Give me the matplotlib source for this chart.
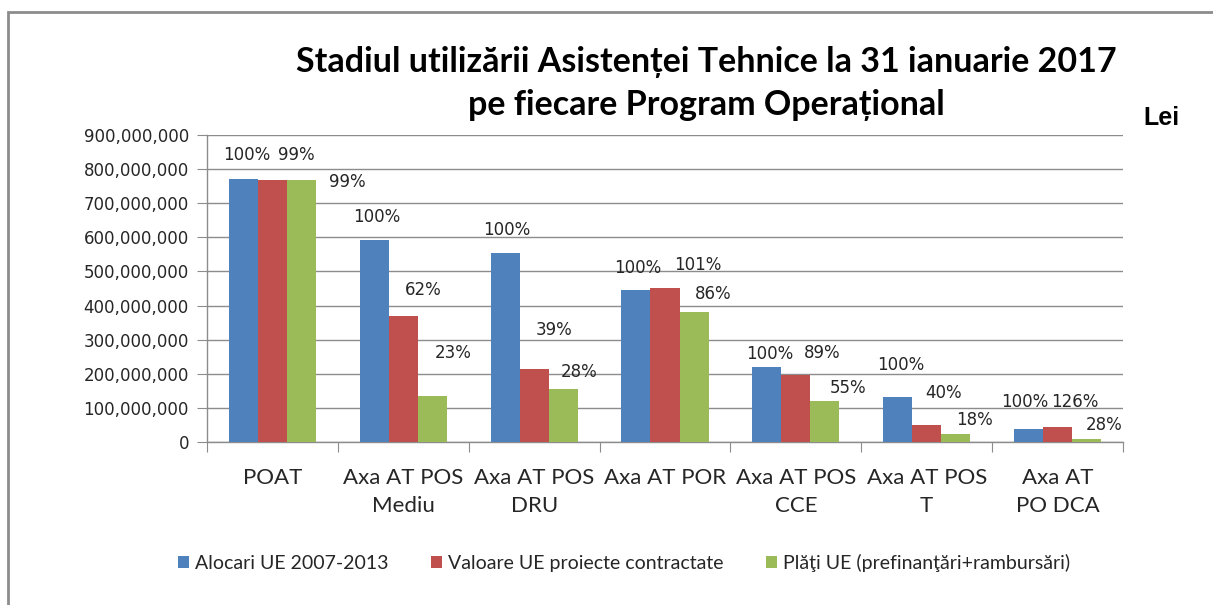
"""Stadiul utilizarii Asistentei Tehnice - grouped bars, Excel style."""

import matplotlib
matplotlib.use("Agg")
import matplotlib.pyplot as plt
import numpy as np
from matplotlib.patches import Rectangle
from matplotlib.ticker import FuncFormatter, MultipleLocator

CATEGORIES = [
    "POAT",
    "Axa AT POS\nMediu",
    "Axa AT POS\nDRU",
    "Axa AT POR",
    "Axa AT POS\nCCE",
    "Axa AT POS\nT",
    "Axa AT\nPO DCA",
]
SERIES = [
    "Alocari UE 2007-2013",
    "Valoare UE proiecte contractate",
    "Plăţi UE (prefinanţări+rambursări)",
]
ALOCARI = [770e6, 591e6, 555e6, 447e6, 221e6, 131e6, 38e6]
CONTRACTATE = [767e6, 369e6, 213e6, 451e6, 196e6, 49e6, 45e6]
PLATI = [767e6, 134e6, 154e6, 380e6, 119e6, 22e6, 8e6]
PCT_ALOCARI = [100, 100, 100, 100, 100, 100, 100]
PCT_CONTRACTATE = [99, 62, 39, 101, 89, 40, 126]
PCT_PLATI = [99, 23, 28, 86, 55, 18, 28]

COLORS = ["#4F81BD", "#C0504D", "#9BBB59"]
GRID = "#8C8C8C"
TEXT = "#262626"

# label nudges in pixels (dx, dy) relative to the top centre of each bar,
# mimicking the hand-placed Excel data labels
NUDGE = [
    [(3, 24), (3, 23), (2, 23), (2, 22), (3, 13), (3, 32), (-4, 27)],
    [(24, 25), (20, 26), (20, 39), (33, 23), (26, 22), (17, 32), (17, 25)],
    [(46, -2), (21, 43), (16, 17), (19, 18), (23, 13), (19, 14), (18, 14)],
]

fig = plt.figure(figsize=(12.13, 6.05), dpi=100)
ax = fig.add_axes([207 / 1213, 1 - 442 / 605, (1123 - 207) / 1213, (442 - 135) / 605])

x = np.arange(len(CATEGORIES))
w = 0.222
values = [ALOCARI, CONTRACTATE, PLATI]
pcts = [PCT_ALOCARI, PCT_CONTRACTATE, PCT_PLATI]
for k, (vals, pc) in enumerate(zip(values, pcts)):
    xs = x + (k - 1) * w
    ax.bar(xs, vals, width=w, color=COLORS[k], label=SERIES[k], zorder=3)
    for xi, v, p, (dx, dy) in zip(xs, vals, pc, NUDGE[k]):
        ax.annotate(f"{p}%", (xi, v), xytext=(dx, dy), textcoords="offset pixels",
                    ha="center", va="center", fontsize=12, color=TEXT,
                    family="DejaVu Sans", zorder=4)

ax.set_xlim(-0.5, len(CATEGORIES) - 0.5)
ax.set_ylim(0, 900e6)
ax.yaxis.set_major_locator(MultipleLocator(100e6))
ax.yaxis.set_major_formatter(FuncFormatter(lambda v, _: "0" if v == 0 else f"{v:,.0f}"))
ax.grid(axis="y", color=GRID, linewidth=1.0, zorder=0)
ax.set_axisbelow(True)

for s in ["top", "right"]:
    ax.spines[s].set_visible(False)
for s in ["left", "bottom"]:
    ax.spines[s].set_color(GRID)
    ax.spines[s].set_linewidth(1.0)

ax.tick_params(axis="y", length=7, color=GRID, labelsize=12, labelcolor=TEXT, pad=6)
ax.set_xticks(np.arange(len(CATEGORIES) + 1) - 0.5)
ax.set_xticklabels([])
ax.set_xticks(x, minor=True)
ax.set_xticklabels(CATEGORIES, minor=True, fontsize=16, family="Lato", color=TEXT,
                   linespacing=1.5)
ax.tick_params(axis="x", which="major", length=7, color=GRID)
ax.tick_params(axis="x", which="minor", length=0, pad=19)

fig.text(706 / 1213, 1 - 62 / 605, "Stadiul utilizării Asistenței Tehnice la 31 ianuarie 2017",
         ha="center", va="center", fontsize=24.5, fontweight="bold", family="Lato", color="black")
fig.text(706 / 1213, 1 - 105 / 605, "pe fiecare Program Operațional",
         ha="center", va="center", fontsize=24.5, fontweight="bold", family="Lato", color="black")
fig.text(1161 / 1213, 1 - 118 / 605, "Lei", ha="center", va="center", fontsize=18,
         fontweight="bold", family="Liberation Sans", color="black")

leg = fig.legend(loc="center", bbox_to_anchor=(624 / 1213, 1 - 563 / 605), ncol=3,
                 frameon=False, prop={"family": "Lato", "size": 14},
                 handlelength=0.55, handleheight=0.55, handletextpad=0.3, columnspacing=2.2)
for t in leg.get_texts():
    t.set_color(TEXT)

fig.patches.append(Rectangle((8 / 1213, -0.05), 1.2, 1 - 12 / 605 + 0.05,
                             transform=fig.transFigure, fill=False,
                             edgecolor="#8C8C8C", linewidth=2.0))

fig.savefig("out.png", dpi=100)
